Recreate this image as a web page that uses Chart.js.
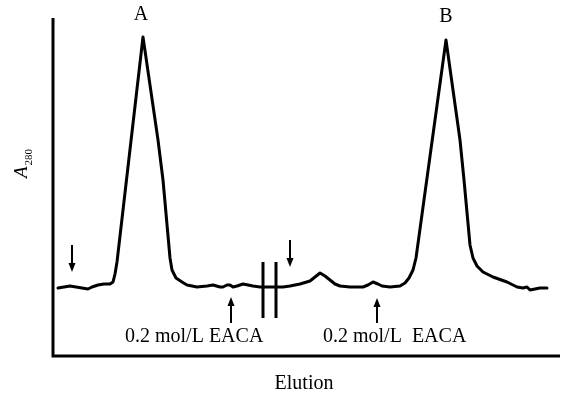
<!DOCTYPE html>
<html>
<head>
<meta charset="utf-8">
<script src="https://cdn.jsdelivr.net/npm/chart.js@4"></script>
<style>
  html, body { margin: 0; padding: 0; background: #fff; }
  canvas { display: block; }
</style>
</head>
<body>
<canvas id="c" width="563" height="396"></canvas>
<script>
// Elution volume (arbitrary units)
const elution = [6,12,18,24,30,36,40,46,52,58,61,63,65,91,106,111,118,120,124,130,135,145,155,161,168,171,175,178,181,185,191,196,201,208,218,231,238,248,258,263,268,273,278,283,288,298,311,316,321,326,330,338,348,353,357,361,364,394,408,412,418,421,425,431,441,455,465,471,475,478,483,488,495];
// Absorbance at 280 nm (arbitrary units)
const a280 = [68,69,70,69,68,67,69,71,72,72,74,82,94,319,216,176,98,86,78,74,71,69,70,71,69,69,71,71,69,70,72,71,70,69,69,69,70,72,75,79,83,80,76,72,70,69,69,71,74,72,70,69,70,73,78,86,98,316,216,176,111,98,90,84,79,74,69,68,69,66,67,68,68];

const peakLabels = ['A', 'B'];
const peakLabelX = [89, 394];
const peakLabelY = [336, 334];

const eacaLabels = ['0.2 mol/L EACA', '0.2 mol/L  EACA'];
const eacaLabelX = [73, 271];
const eacaLabelY = [14, 14];

// arrows: x, tail y, tip y
const arrowX = [20, 238, 179, 325];
const arrowTail = [111, 116, 33, 33];
const arrowTip = [84, 89, 59, 58];

// axis-break marks
const breakX = [211, 224];
const breakY = [38, 94];

const xTitle = 'Elution';

const overlay = {
  id: 'overlay',
  afterDraw(chart) {
    const ctx = chart.ctx;
    const xs = chart.scales.x, ys = chart.scales.y;
    const ca = chart.chartArea;
    ctx.save();
    ctx.strokeStyle = '#000';
    ctx.fillStyle = '#000';
    // axes
    ctx.lineWidth = 3;
    ctx.beginPath();
    ctx.moveTo(ca.left + 1, ca.top);
    ctx.lineTo(ca.left + 1, ca.bottom + 1);
    ctx.moveTo(ca.left - 0.5, ca.bottom);
    ctx.lineTo(ca.right, ca.bottom);
    ctx.stroke();
    // break marks
    ctx.lineWidth = 3;
    breakX.forEach(bx => {
      const px = xs.getPixelForValue(bx);
      ctx.beginPath();
      ctx.moveTo(px, ys.getPixelForValue(breakY[0]));
      ctx.lineTo(px, ys.getPixelForValue(breakY[1]));
      ctx.stroke();
    });
    // arrows
    arrowX.forEach((ax, i) => {
      const px = xs.getPixelForValue(ax);
      const pt = ys.getPixelForValue(arrowTail[i]);
      const pp = ys.getPixelForValue(arrowTip[i]);
      const dir = pp > pt ? 1 : -1;
      ctx.lineWidth = 2;
      ctx.beginPath();
      ctx.moveTo(px, pt);
      ctx.lineTo(px, pp - dir * 6);
      ctx.stroke();
      ctx.beginPath();
      ctx.moveTo(px, pp);
      ctx.lineTo(px - 3.5, pp - dir * 9);
      ctx.lineTo(px + 3.5, pp - dir * 9);
      ctx.closePath();
      ctx.fill();
    });
    // text
    ctx.font = '20px "Liberation Serif", "DejaVu Serif", serif';
    ctx.textBaseline = 'alphabetic';
    ctx.textAlign = 'center';
    peakLabels.forEach((t, i) => {
      ctx.fillText(t, xs.getPixelForValue(peakLabelX[i]), ys.getPixelForValue(peakLabelY[i]));
    });
    ctx.textAlign = 'left';
    eacaLabels.forEach((t, i) => {
      ctx.fillText(t, xs.getPixelForValue(eacaLabelX[i]), ys.getPixelForValue(eacaLabelY[i]));
    });
    ctx.textAlign = 'center';
    ctx.fillText(xTitle, (ca.left + ca.right) / 2 - 2, ca.bottom + 33);
    // y title: A280 rotated
    ctx.translate(ca.left - 25, ca.top + 160);
    ctx.rotate(-Math.PI / 2);
    ctx.textAlign = 'left';
    ctx.font = 'italic 19px "Liberation Serif", serif';
    ctx.fillText('A', 0, 0);
    const w = ctx.measureText('A').width;
    ctx.font = '11px "Liberation Serif", serif';
    ctx.fillText('280', w + 1, 5);
    ctx.restore();
  }
};

new Chart(document.getElementById('c'), {
  type: 'line',
  data: {
    datasets: [{
      data: elution.map((x, i) => ({ x: x, y: a280[i] })),
      borderColor: '#000',
      borderWidth: 3,
      pointRadius: 0,
      tension: 0,
      fill: false,
      borderJoinStyle: 'round',
      borderCapStyle: 'round'
    }]
  },
  options: {
    responsive: false,
    animation: false,
    layout: { padding: { left: 52, right: 3, top: 18, bottom: 40 } },
    plugins: { legend: { display: false }, tooltip: { enabled: false } },
    scales: {
      x: { type: 'linear', min: 0, max: 508, display: false },
      y: { type: 'linear', min: 0, max: 338, display: false }
    }
  },
  plugins: [overlay]
});
</script>
</body>
</html>
